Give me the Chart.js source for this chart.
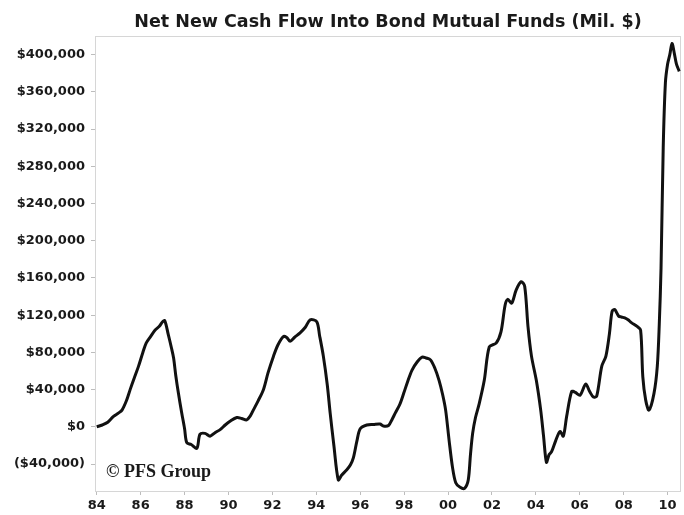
<!DOCTYPE html>
<html>
<head>
<meta charset="utf-8">
<script src="https://cdn.jsdelivr.net/npm/chart.js@4.4.1/dist/chart.umd.min.js"></script>
<style>
  html, body { margin: 0; padding: 0; background: #ffffff; }
  #wrap { position: relative; width: 684px; height: 515px; }
</style>
</head>
<body>
<div id="wrap"><canvas id="c"></canvas></div>
<script>
// ---- Data (year fraction, millions of $) ----
const years = [
  1984.0, 1984.25, 1984.5, 1984.75, 1985.0, 1985.15, 1985.35, 1985.52, 1985.7, 1985.9,
  1986.1, 1986.25, 1986.45, 1986.66, 1986.85, 1987.0, 1987.1, 1987.25, 1987.4, 1987.5,
  1987.6, 1987.72, 1987.87, 1988.0, 1988.1, 1988.3, 1988.56, 1988.7, 1988.93, 1989.16,
  1989.4, 1989.62, 1989.85, 1990.07, 1990.38, 1990.6, 1990.83, 1991.0, 1991.13, 1991.35,
  1991.59, 1991.8, 1992.05, 1992.25, 1992.5, 1992.65, 1992.81, 1993.0, 1993.26, 1993.5,
  1993.72, 1994.02, 1994.15, 1994.32, 1994.5, 1994.63, 1994.8, 1995.0, 1995.15, 1995.39,
  1995.55, 1995.69, 1995.85, 1996.0, 1996.3, 1996.6, 1996.9, 1997.05, 1997.29, 1997.45,
  1997.6, 1997.8, 1997.98, 1998.15, 1998.36, 1998.6, 1998.82, 1999.0, 1999.2, 1999.4,
  1999.59, 1999.75, 1999.89, 2000.05, 2000.2, 2000.35, 2000.55, 2000.75, 2000.92, 2001.02,
  2001.12, 2001.25, 2001.42, 2001.65, 2001.88, 2002.19, 2002.41, 2002.6, 2002.72, 2002.9,
  2003.1, 2003.33, 2003.49, 2003.64, 2003.8, 2004.02, 2004.22, 2004.35, 2004.48, 2004.6,
  2004.71, 2004.9, 2005.1, 2005.25, 2005.4, 2005.63, 2005.8, 2006.01, 2006.27, 2006.45,
  2006.62, 2006.77, 2007.0, 2007.19, 2007.35, 2007.47, 2007.59, 2007.77, 2007.9, 2008.05,
  2008.2, 2008.35, 2008.61, 2008.77, 2008.87, 2009.0, 2009.15, 2009.38, 2009.53, 2009.62,
  2009.7, 2009.8, 2009.9, 2010.0, 2010.1, 2010.2, 2010.3, 2010.4, 2010.53
];
const netCashFlow = [
  0, 2000, 5000, 11000, 15000, 18000, 28000, 40000, 52000, 65000,
  80000, 90000, 97000, 104000, 108000, 113000, 114000, 100000, 85000, 74000,
  55000, 36000, 15000, -2000, -17000, -19000, -23000, -8000, -7000, -10000,
  -6000, -3000, 2000, 6000, 10000, 9000, 7500, 12000, 18000, 28000,
  40000, 58000, 76000, 88000, 97000, 96000, 92000, 96000, 101000, 107000,
  115000, 113000, 98000, 76000, 45000, 15000, -20000, -57000, -52000, -46000,
  -41000, -33000, -15000, -2000, 2000, 2500, 3000, 1000, 1500, 8000,
  15000, 24000, 36000, 48000, 61000, 70000, 75000, 74000, 72000, 63000,
  50000, 35000, 18000, -15000, -43000, -60000, -65000, -66000, -57000, -30000,
  -7000, 10000, 25000, 50000, 86000, 90000, 102000, 131000, 137000, 133000,
  147000, 156000, 151000, 108000, 76000, 50000, 18000, -10000, -38000, -30000,
  -27000, -15000, -5000, -10000, 11000, 38000, 37000, 34000, 46000, 38000,
  32000, 33000, 65000, 76000, 100000, 124000, 126000, 119000, 118000, 117000,
  115000, 112000, 108000, 104000, 54000, 29000, 18000, 36000, 65000, 110000,
  170000, 300000, 370000, 390000, 400000, 412000, 402000, 390000, 382000
];

// ---- Axis ticks ----
const xTickValues = [1984, 1986, 1988, 1990, 1992, 1994, 1996, 1998, 2000, 2002, 2004, 2006, 2008, 2010];
const xTickLabels = ["84", "86", "88", "90", "92", "94", "96", "98", "00", "02", "04", "06", "08", "10"];
const yTickValues = [-40000, 0, 40000, 80000, 120000, 160000, 200000, 240000, 280000, 320000, 360000, 400000];
const yTickLabels = ["($40,000)", "$0", "$40,000", "$80,000", "$120,000", "$160,000", "$200,000",
                     "$240,000", "$280,000", "$320,000", "$360,000", "$400,000"];

const titleText = "Net New Cash Flow Into Bond Mutual Funds (Mil. $)";
const watermarkText = "\u00A9 PFS Group";

const points = years.map((yr, i) => ({ x: yr, y: netCashFlow[i] }));

const framePlugin = {
  id: 'frameAndText',
  beforeDraw(chart) {
    const ctx = chart.ctx;
    ctx.save();
    ctx.fillStyle = '#ffffff';
    ctx.fillRect(0, 0, chart.width, chart.height);
    ctx.restore();
  },
  beforeDatasetsDraw(chart) {
    const { ctx, chartArea: a } = chart;
    ctx.save();
    ctx.strokeStyle = '#d6d6d6';
    ctx.lineWidth = 1;
    ctx.strokeRect(a.left + 0.5, a.top + 0.5, a.right - a.left - 1, a.bottom - a.top - 1);
    // watermark
    ctx.fillStyle = '#1a1a1a';
    ctx.font = 'bold 18px "Liberation Serif"';
    ctx.textAlign = 'left';
    ctx.textBaseline = 'alphabetic';
    ctx.fillText(watermarkText, a.left + 11, a.bottom - 15);
    ctx.restore();
  },
  afterDraw(chart) {
    const { ctx, chartArea: a } = chart;
    ctx.save();
    ctx.fillStyle = '#1a1a1a';
    ctx.font = 'bold 17.5px "DejaVu Sans"';
    ctx.textAlign = 'center';
    ctx.textBaseline = 'alphabetic';
    ctx.fillText(titleText, (a.left + a.right) / 2, 27);
    ctx.restore();
  }
};

new Chart(document.getElementById('c'), {
  type: 'line',
  data: {
    datasets: [{
      data: points,
      borderColor: '#111111',
      borderWidth: 3,
      pointRadius: 0,
      tension: 0.3,
      fill: false
    }]
  },
  options: {
    responsive: true,
    maintainAspectRatio: false,
    animation: false,
    devicePixelRatio: 1,
    layout: { padding: { top: 36, right: 3, left: 0, bottom: 0 } },
    plugins: { legend: { display: false }, tooltip: { enabled: false }, title: { display: false } },
    scales: {
      x: {
        type: 'linear',
        min: 1983.92,
        max: 2010.61,
        afterBuildTicks(scale) { scale.ticks = xTickValues.map(v => ({ value: v })); },
        afterFit(scale) { scale.height = 23; },
        grid: { display: true, drawOnChartArea: false, drawTicks: true, tickLength: 3, color: '#bdbdbd' },
        border: { display: false },
        ticks: {
          padding: 3,
          maxRotation: 0,
          autoSkip: false,
          color: '#1a1a1a',
          font: { family: '"DejaVu Sans"', size: 13, weight: 'bold' },
          callback(v) { const i = xTickValues.indexOf(v); return i >= 0 ? xTickLabels[i] : ''; }
        }
      },
      y: {
        min: -70000,
        max: 420000,
        afterBuildTicks(scale) { scale.ticks = yTickValues.map(v => ({ value: v })); },
        afterFit(scale) { scale.width = 95; },
        grid: { display: true, drawOnChartArea: false, drawTicks: true, tickLength: 4, color: '#bdbdbd' },
        border: { display: false },
        ticks: {
          padding: 6,
          autoSkip: false,
          color: '#1a1a1a',
          font: { family: '"DejaVu Sans"', size: 13, weight: 'bold' },
          callback(v) { const i = yTickValues.indexOf(v); return i >= 0 ? yTickLabels[i] : ''; }
        }
      }
    }
  },
  plugins: [framePlugin]
});
</script>
</body>
</html>
